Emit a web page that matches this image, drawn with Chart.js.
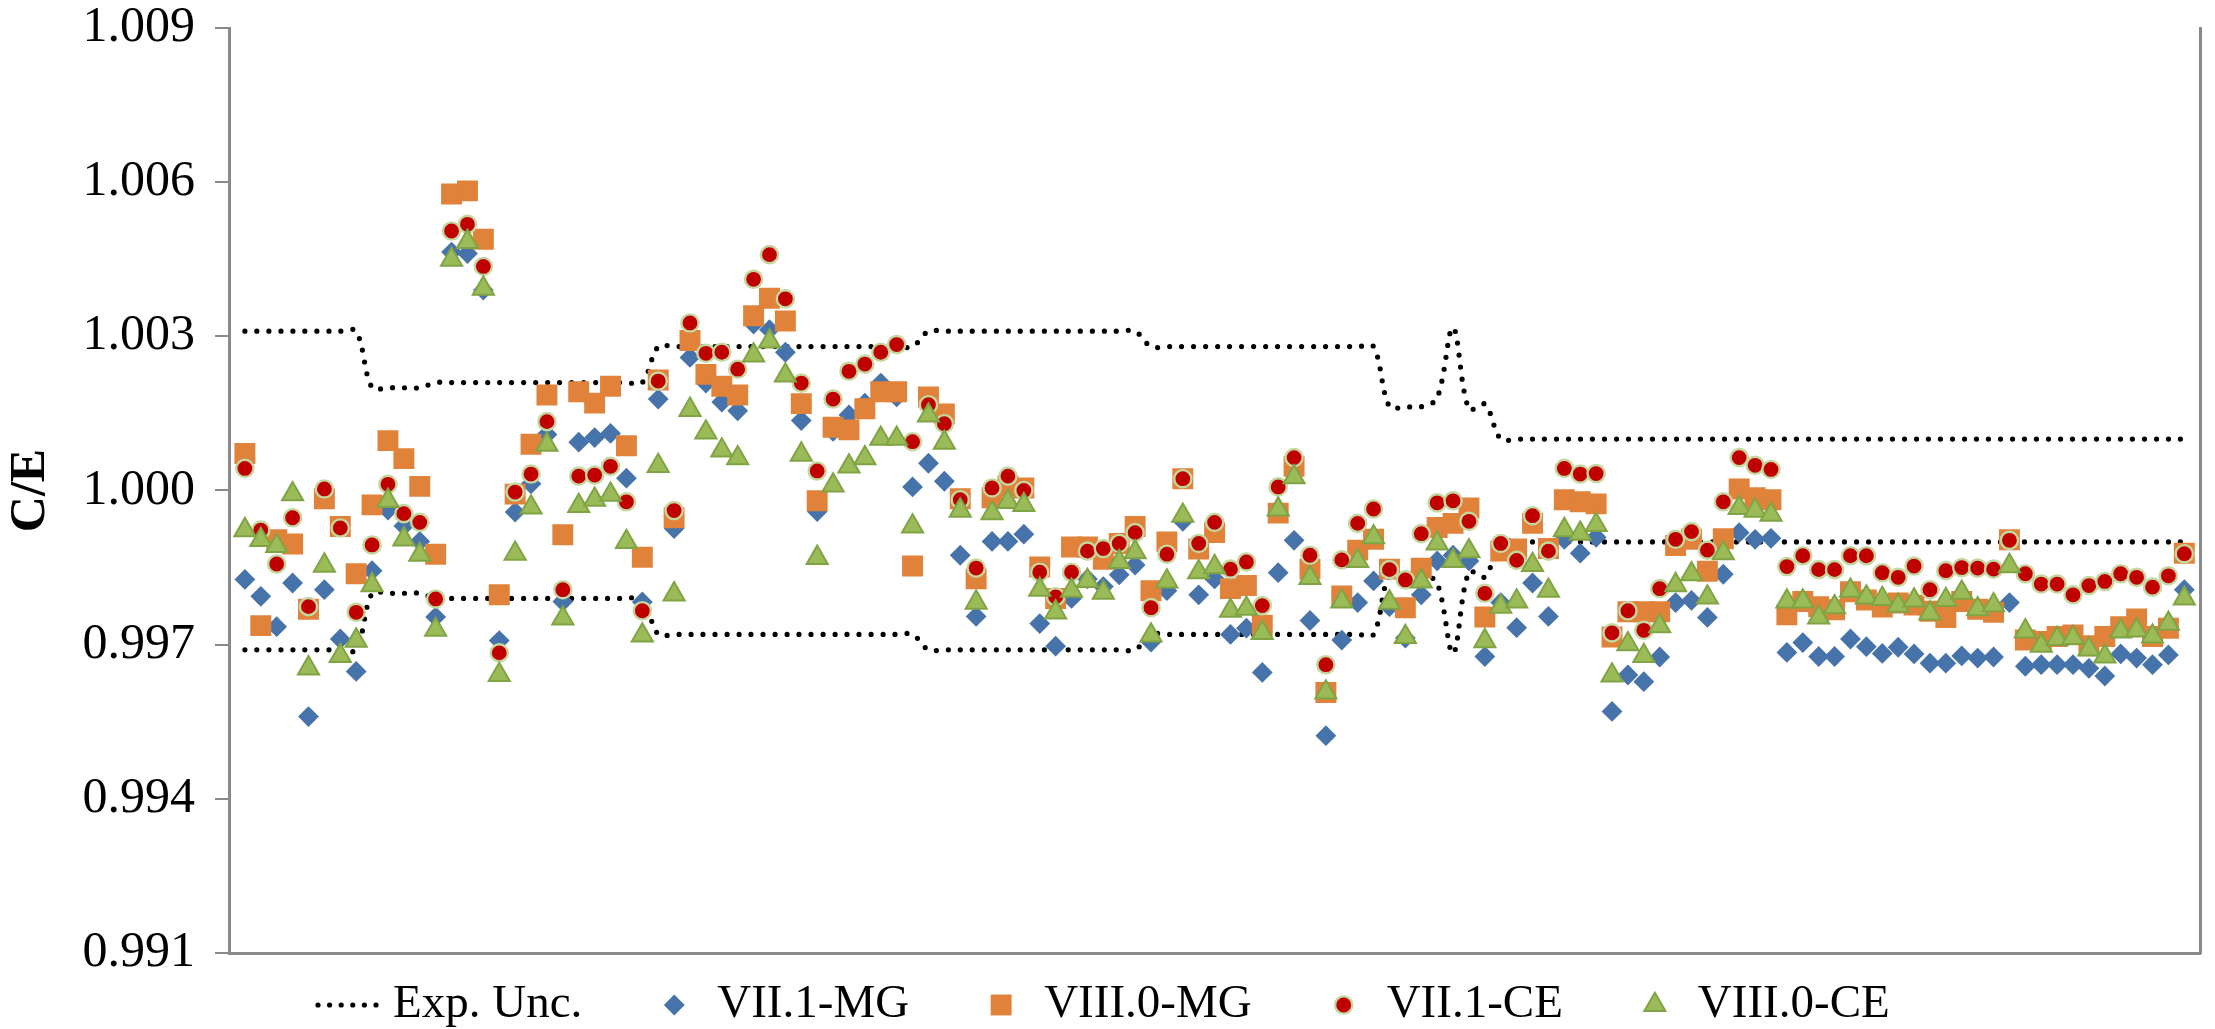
<!DOCTYPE html>
<html>
<head>
<meta charset="utf-8">
<title>C/E</title>
<script src="https://cdn.jsdelivr.net/npm/chart.js@4.4.1/dist/chart.umd.min.js"></script>
<style>
  html, body { margin: 0; padding: 0; background: #ffffff; }
  canvas { display: block; }
</style>
</head>
<body>
<canvas id="chart" width="2215" height="1029"></canvas>
<script>
// Benchmark cases, numbered along the horizontal axis
const caseCount = 123;
const caseNumbers = Array.from({ length: caseCount }, (_, k) => k + 1);

// Relative experimental uncertainty of each case (band drawn at 1 ± u)
const expUnc = [
  0.0031, 0.0031, 0.0031, 0.0031, 0.0031, 0.0031, 0.0031, 0.0031, 0.0020, 0.0020,
  0.0020, 0.0020, 0.0021, 0.0021, 0.0021, 0.0021, 0.0021, 0.0021, 0.0021, 0.0021,
  0.0021, 0.0021, 0.0021, 0.0021, 0.0021, 0.0021, 0.0028, 0.0028, 0.0028, 0.0028,
  0.0028, 0.0028, 0.0028, 0.0028, 0.0028, 0.0028, 0.0028, 0.0028, 0.0028, 0.0028,
  0.0028, 0.0028, 0.0028, 0.0031, 0.0031, 0.0031, 0.0031, 0.0031, 0.0031, 0.0031,
  0.0031, 0.0031, 0.0031, 0.0031, 0.0031, 0.0031, 0.0031, 0.0028, 0.0028, 0.0028,
  0.0028, 0.0028, 0.0028, 0.0028, 0.0028, 0.0028, 0.0028, 0.0028, 0.0028, 0.0028,
  0.0028, 0.0028, 0.00163, 0.00163, 0.00163, 0.0018, 0.00317, 0.00158, 0.00168, 0.0010,
  0.0010, 0.0010, 0.0010, 0.0010, 0.0010, 0.0010, 0.0010, 0.0010, 0.0010, 0.0010,
  0.0010, 0.0010, 0.0010, 0.0010, 0.0010, 0.0010, 0.0010, 0.0010, 0.0010, 0.0010,
  0.0010, 0.0010, 0.0010, 0.0010, 0.0010, 0.0010, 0.0010, 0.0010, 0.0010, 0.0010,
  0.0010, 0.0010, 0.0010, 0.0010, 0.0010, 0.0010, 0.0010, 0.0010, 0.0010, 0.0010,
  0.0010, 0.0010, 0.0010
];

// C/E values, ENDF/B-VII.1 with MG library
const vii1MG = [
  0.99827, 0.99794, 0.99735, 0.99820, 0.99560, 0.99807, 0.99711, 0.99648, 0.99844, 0.99962,
  0.99931, 0.99901, 0.99754, 1.00464, 1.00461, 1.00390, 0.99708, 0.99958, 1.00013, 1.00109,
  0.99784, 1.00094, 1.00103, 1.00111, 1.00024, 0.99783, 1.00178, 0.99926, 1.00259, 1.00209,
  1.00172, 1.00155, 1.00324, 1.00313, 1.00269, 1.00136, 0.99959, 1.00115, 1.00147, 1.00170,
  1.00209, 1.00182, 1.00007, 1.00053, 1.00018, 0.99874, 0.99755, 0.99901, 0.99901, 0.99915,
  0.99741, 0.99697, 0.99790, 0.99828, 0.99813, 0.99836, 0.99855, 0.99705, 0.99805, 0.99940,
  0.99797, 0.99828, 0.99720, 0.99732, 0.99646, 0.99840, 0.99903, 0.99747, 0.99523, 0.99709,
  0.99782, 0.99824, 0.99774, 0.99713, 0.99797, 0.99863, 0.99874, 0.99863, 0.99677, 0.99782,
  0.99733, 0.99820, 0.99755, 0.99905, 0.99878, 0.99909, 0.99570, 0.99641, 0.99628, 0.99676,
  0.99782, 0.99786, 0.99753, 0.99837, 0.99918, 0.99905, 0.99907, 0.99685, 0.99704, 0.99677,
  0.99677, 0.99711, 0.99696, 0.99683, 0.99695, 0.99682, 0.99664, 0.99664, 0.99678, 0.99674,
  0.99676, 0.99782, 0.99658, 0.99661, 0.99661, 0.99661, 0.99654, 0.99639, 0.99682, 0.99674,
  0.99661, 0.99680, 0.99807
];

// C/E values, ENDF/B-VIII.0 with MG library
const viii0MG = [
  1.00072, 0.99737, 0.99904, 0.99896, 0.99769, 0.99984, 0.99930, 0.99838, 0.99972, 1.00097,
  1.00062, 1.00008, 0.99876, 1.00577, 1.00583, 1.00489, 0.99797, 0.99993, 1.00090, 1.00186,
  0.99914, 1.00192, 1.00170, 1.00203, 1.00087, 0.99870, 1.00215, 0.99947, 1.00292, 1.00226,
  1.00203, 1.00186, 1.00340, 1.00374, 1.00330, 1.00169, 0.99980, 1.00123, 1.00118, 1.00159,
  1.00192, 1.00192, 0.99853, 1.00182, 1.00149, 0.99984, 0.99828, 0.99986, 1.00009, 1.00005,
  0.99851, 0.99790, 0.99890, 0.99890, 0.99866, 0.99897, 0.99930, 0.99805, 0.99900, 1.00023,
  0.99886, 0.99918, 0.99809, 0.99815, 0.99738, 0.99956, 1.00047, 0.99847, 0.99607, 0.99795,
  0.99884, 0.99905, 0.99847, 0.99772, 0.99849, 0.99928, 0.99936, 0.99966, 0.99754, 0.99882,
  0.99886, 0.99936, 0.99887, 0.99982, 0.99978, 0.99974, 0.99715, 0.99764, 0.99764, 0.99764,
  0.99893, 0.99905, 0.99843, 0.99906, 1.00003, 0.99986, 0.99982, 0.99758, 0.99784, 0.99774,
  0.99768, 0.99803, 0.99787, 0.99773, 0.99781, 0.99777, 0.99765, 0.99753, 0.99784, 0.99769,
  0.99763, 0.99904, 0.99709, 0.99706, 0.99716, 0.99719, 0.99698, 0.99716, 0.99735, 0.99750,
  0.99716, 0.99732, 0.99878
];

// C/E values, ENDF/B-VII.1 continuous energy
const vii1CE = [
  1.00043, 0.99923, 0.99857, 0.99947, 0.99774, 1.00003, 0.99927, 0.99763, 0.99894, 1.00012,
  0.99955, 0.99938, 0.99789, 1.00505, 1.00518, 1.00436, 0.99684, 0.99997, 1.00032, 1.00134,
  0.99807, 1.00028, 1.00030, 1.00047, 0.99978, 0.99766, 1.00213, 0.99961, 1.00326, 1.00267,
  1.00269, 1.00236, 1.00411, 1.00459, 1.00373, 1.00209, 1.00038, 1.00178, 1.00232, 1.00246,
  1.00269, 1.00284, 1.00095, 1.00167, 1.00130, 0.99982, 0.99849, 1.00005, 1.00028, 1.00000,
  0.99841, 0.99793, 0.99841, 0.99882, 0.99887, 0.99897, 0.99918, 0.99772, 0.99876, 1.00023,
  0.99897, 0.99938, 0.99847, 0.99861, 0.99776, 1.00007, 1.00064, 0.99874, 0.99661, 0.99865,
  0.99936, 0.99964, 0.99846, 0.99826, 0.99916, 0.99976, 0.99980, 0.99940, 0.99800, 0.99897,
  0.99864, 0.99951, 0.99882, 1.00043, 1.00032, 1.00033, 0.99723, 0.99766, 0.99728, 0.99809,
  0.99905, 0.99920, 0.99884, 0.99978, 1.00064, 1.00049, 1.00041, 0.99852, 0.99873, 0.99846,
  0.99846, 0.99873, 0.99873, 0.99840, 0.99831, 0.99853, 0.99807, 0.99844, 0.99850, 0.99849,
  0.99847, 0.99903, 0.99838, 0.99818, 0.99818, 0.99797, 0.99815, 0.99823, 0.99838, 0.99831,
  0.99812, 0.99834, 0.99877
];

// C/E values, ENDF/B-VIII.0 continuous energy
const viii0CE = [
  0.99923, 0.99904, 0.99892, 0.99993, 0.99654, 0.99854, 0.99678, 0.99708, 0.99816, 0.99980,
  0.99905, 0.99875, 0.99729, 1.00449, 1.00484, 1.00393, 0.99641, 0.99877, 0.99967, 1.00089,
  0.99751, 0.99970, 0.99982, 0.99992, 0.99900, 0.99718, 1.00048, 0.99798, 1.00157, 1.00113,
  1.00078, 1.00063, 1.00263, 1.00290, 1.00224, 1.00070, 0.99869, 1.00010, 1.00047, 1.00063,
  1.00101, 1.00101, 0.99930, 1.00146, 1.00093, 0.99961, 0.99782, 0.99956, 0.99978, 0.99972,
  0.99807, 0.99763, 0.99805, 0.99824, 0.99801, 0.99861, 0.99880, 0.99718, 0.99823, 0.99951,
  0.99841, 0.99851, 0.99766, 0.99770, 0.99723, 0.99963, 1.00026, 0.99830, 0.99607, 0.99784,
  0.99863, 0.99909, 0.99782, 0.99715, 0.99823, 0.99897, 0.99863, 0.99882, 0.99707, 0.99774,
  0.99784, 0.99855, 0.99805, 0.99923, 0.99916, 0.99933, 0.99640, 0.99701, 0.99678, 0.99736,
  0.99816, 0.99837, 0.99792, 0.99878, 0.99966, 0.99961, 0.99953, 0.99784, 0.99784, 0.99753,
  0.99773, 0.99805, 0.99792, 0.99789, 0.99776, 0.99786, 0.99761, 0.99787, 0.99801, 0.99769,
  0.99777, 0.99853, 0.99726, 0.99698, 0.99711, 0.99713, 0.99691, 0.99677, 0.99726, 0.99728,
  0.99716, 0.99741, 0.99790
];

// Y-axis tick labels
const yTickLabels = ['0.991', '0.994', '0.997', '1.000', '1.003', '1.006', '1.009'];
const yTickValues = yTickLabels.map(Number);

const seriesNames = ['Exp. Unc.', 'VII.1-MG', 'VIII.0-MG', 'VII.1-CE', 'VIII.0-CE'];

const FONT = '"Liberation Serif", "Times New Roman", serif';
const AXIS_GREY = '#8a8a8a';
const BAND_WIDTH = 5.2;

const toPoints = values => values.map((v, k) => ({ x: caseNumbers[k], y: v }));

const bandStyle = {
  type: 'line',
  showLine: true,
  borderColor: '#000000',
  borderWidth: BAND_WIDTH,
  borderDash: [0, 12],
  borderCapStyle: 'round',
  pointRadius: 0,
  pointHoverRadius: 0,
  tension: 0.35,
  fill: false,
  order: 5
};

const datasets = [
  Object.assign({ label: seriesNames[0], data: toPoints(expUnc.map(u => 1 + u)) }, bandStyle),
  Object.assign({ label: seriesNames[0] + ' lower', data: toPoints(expUnc.map(u => 1 - u)) }, bandStyle),
  {
    label: seriesNames[1], data: toPoints(vii1MG), order: 4,
    pointStyle: 'rectRot', pointRadius: 10.4, borderWidth: 0,
    backgroundColor: '#4673aa', borderColor: '#4673aa'
  },
  {
    label: seriesNames[2], data: toPoints(viii0MG), order: 3,
    pointStyle: 'rect', pointRadius: 14.8, borderWidth: 0,
    backgroundColor: '#e0823a', borderColor: '#e0823a'
  },
  {
    label: seriesNames[3], data: toPoints(vii1CE), order: 2,
    pointStyle: 'circle', pointRadius: 8.6, borderWidth: 2.4,
    backgroundColor: '#c00000', borderColor: '#c4d79e'
  },
  {
    label: seriesNames[4], data: toPoints(viii0CE), order: 1,
    pointStyle: 'triangle', pointRadius: 12.2, borderWidth: 2,
    backgroundColor: '#9bbb59', borderColor: '#80a444'
  }
];

// Legend drawn below the plot in a single row, centred on the canvas
const bottomLegend = {
  id: 'bottomLegend',
  afterDraw(chart) {
    const ctx = chart.ctx;
    const y = 1005;
    const sampleLen = 70, sampleGap = 7, itemGap = 92, markerGap = 43;
    ctx.save();
    ctx.font = '47px ' + FONT;
    ctx.textBaseline = 'middle';
    ctx.textAlign = 'left';

    const markerSets = chart.data.datasets.slice(2);
    let total = sampleLen + sampleGap + ctx.measureText(seriesNames[0]).width;
    markerSets.forEach(ds => { total += itemGap + markerGap + ctx.measureText(ds.label).width; });
    let x = Math.round(chart.width / 2 - 5 - total / 2);

    // dotted line sample
    ctx.strokeStyle = '#000000';
    ctx.lineWidth = BAND_WIDTH;
    ctx.lineCap = 'round';
    ctx.setLineDash([0, 11.6]);
    ctx.beginPath();
    ctx.moveTo(x + 2, y);
    ctx.lineTo(x + sampleLen, y);
    ctx.stroke();
    ctx.setLineDash([]);
    x += sampleLen + sampleGap;
    ctx.fillStyle = '#000000';
    ctx.fillText(seriesNames[0], x, y);
    x += ctx.measureText(seriesNames[0]).width;

    markerSets.forEach(ds => {
      x += itemGap;
      ctx.fillStyle = ds.backgroundColor;
      ctx.strokeStyle = ds.borderColor;
      ctx.lineWidth = ds.borderWidth;
      Chart.helpers.drawPoint(ctx, {
        pointStyle: ds.pointStyle, radius: ds.pointRadius, rotation: 0, borderWidth: ds.borderWidth
      }, x, y);
      x += markerGap;
      ctx.fillStyle = '#000000';
      ctx.fillText(ds.label, x, y);
      x += ctx.measureText(ds.label).width;
    });
    ctx.restore();
  }
};

new Chart(document.getElementById('chart'), {
  type: 'scatter',
  data: { datasets },
  options: {
    responsive: false,
    devicePixelRatio: 1,
    animation: false,
    events: [],
    layout: { padding: { top: 28, right: 4, bottom: 0, left: 0 } },
    plugins: {
      legend: { display: false },
      tooltip: { enabled: false }
    },
    scales: {
      x: {
        type: 'linear',
        min: 0,
        max: caseCount + 1,
        ticks: { display: false },
        grid: { display: false },
        border: { display: true, color: AXIS_GREY, width: 3 },
        afterFit: s => { s.height = 76; }
      },
      y: {
        type: 'linear',
        position: 'left',
        min: yTickValues[0],
        max: yTickValues[yTickValues.length - 1],
        afterBuildTicks: s => { s.ticks = yTickValues.map(v => ({ value: v })); },
        ticks: {
          callback: (v, i) => yTickLabels[i],
          font: { family: FONT, size: 50 },
          color: '#000000',
          padding: 20
        },
        grid: { drawOnChartArea: false, drawTicks: true, tickLength: 14, color: AXIS_GREY, lineWidth: 2 },
        border: { display: true, color: AXIS_GREY, width: 3 },
        title: {
          display: true,
          text: 'C/E',
          font: { family: FONT, size: 50, weight: 'bold' },
          color: '#000000',
          padding: { top: 1, bottom: 0 }
        },
        afterFit: s => {
          s.width = 229;
          // the end labels may overhang the plot edges; the layout padding reserves that room
          s.paddingTop = 0;
          s.paddingBottom = 0;
        }
      },
      y2: {
        type: 'linear',
        position: 'right',
        min: yTickValues[0],
        max: yTickValues[yTickValues.length - 1],
        ticks: { display: false },
        grid: { display: false },
        border: { display: true, color: AXIS_GREY, width: 3 },
        afterFit: s => { s.width = 0; }
      }
    }
  },
  plugins: [bottomLegend]
});
</script>
</body>
</html>
